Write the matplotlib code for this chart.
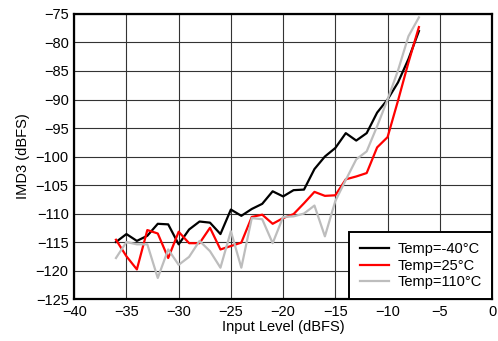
import matplotlib
matplotlib.use("Agg")
import matplotlib.pyplot as plt

# ========== Data ==========
input_level = list(range(-36, -6))  # -36 ... -7 dBFS

imd3_m40 = [-115.0, -113.6, -114.8, -113.9, -111.8, -111.9, -115.4, -112.8, -111.4, -111.6,
            -113.6, -109.3, -110.4, -109.2, -108.3, -106.1, -107.0, -105.9, -105.8, -102.2,
            -100.0, -98.5, -95.9, -97.2, -95.9, -92.3, -90.0, -87.0, -82.9, -78.0]

imd3_25 = [-114.6, -117.5, -119.8, -112.9, -113.5, -117.8, -113.2, -115.2, -115.2, -112.5,
           -116.3, -115.7, -115.1, -110.6, -110.2, -111.8, -110.8, -110.1, -108.2, -106.2,
           -106.9, -106.8, -104.0, -103.5, -102.9, -98.4, -96.6, -90.2, -83.5, -77.3]

imd3_110 = [-117.8, -115.0, -115.4, -115.4, -121.3, -116.3, -119.0, -117.6, -114.8, -116.6,
            -119.5, -113.1, -119.5, -110.8, -111.0, -115.2, -110.6, -110.5, -110.0, -108.6,
            -114.0, -107.8, -104.1, -100.5, -99.1, -94.7, -90.0, -84.9, -78.9, -75.6]

labels = ["Temp=-40\u00b0C", "Temp=25\u00b0C", "Temp=110\u00b0C"]
colors = ["#000000", "#ff0000", "#bdbdbd"]

# ========== Plot ==========
plt.rcParams.update({
    "font.family": ["Liberation Sans", "DejaVu Sans"],
    "font.size": 10.5,
})

fig = plt.figure(figsize=(4.98, 3.41), dpi=100)
ax = fig.add_axes([0.149, 0.123, 0.839, 0.836])

for y, lab, c in zip([imd3_m40, imd3_25, imd3_110], labels, colors):
    ax.plot(input_level, y, color=c, lw=1.6, label=lab)

ax.set_xlim(-40, 0)
ax.set_ylim(-125, -75)
ax.set_xticks(range(-40, 1, 5))
ax.set_yticks(range(-125, -74, 5))
ax.grid(True, color="#333333", linewidth=0.8)
ax.set_axisbelow(True)
for sp in ax.spines.values():
    sp.set_linewidth(1.6)
ax.tick_params(length=0, pad=4)

ax.set_xlabel("Input Level (dBFS)", labelpad=1)
ax.set_ylabel("IMD3 (dBFS)", labelpad=4)

leg = ax.legend(loc="lower right", bbox_to_anchor=(1, 0), borderaxespad=0,
                fancybox=False, framealpha=1, edgecolor="black",
                handlelength=2.0, labelspacing=0.15, borderpad=0.7,
                handletextpad=0.6)
leg.get_frame().set_linewidth(1.4)

fig.savefig("out.png", dpi=100)
